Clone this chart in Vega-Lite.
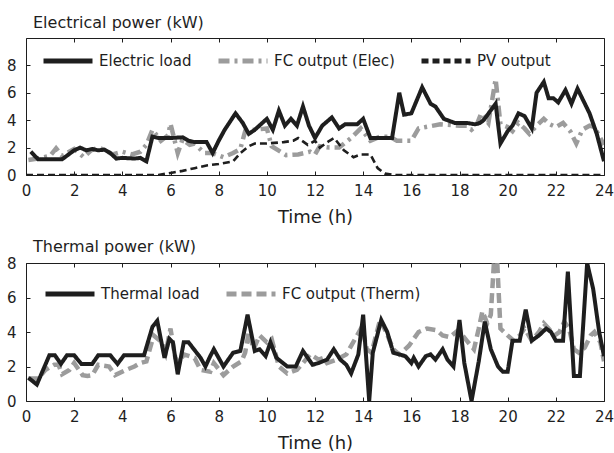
{
  "$schema": "https://vega.github.io/schema/vega-lite/v6.json",
  "padding": {"left": 5, "top": 14, "right": 1, "bottom": 2},
  "spacing": 11,
  "resolve": {"scale": {"color": "independent", "strokeDash": "independent"}, "legend": {"color": "independent", "strokeDash": "independent"}},
  "datasets": {
    "top": [
      {"s": "Electric load", "t": 0.2, "v": 1.7}, {"s": "Electric load", "t": 0.5, "v": 1.15}, {"s": "Electric load", "t": 1.0, "v": 1.15}, {"s": "Electric load", "t": 1.5, "v": 1.15},
      {"s": "Electric load", "t": 2.0, "v": 1.8}, {"s": "Electric load", "t": 2.25, "v": 2.0}, {"s": "Electric load", "t": 2.5, "v": 1.8}, {"s": "Electric load", "t": 2.75, "v": 1.9},
      {"s": "Electric load", "t": 3.0, "v": 1.8}, {"s": "Electric load", "t": 3.25, "v": 1.85}, {"s": "Electric load", "t": 3.5, "v": 1.6}, {"s": "Electric load", "t": 3.75, "v": 1.2},
      {"s": "Electric load", "t": 4.0, "v": 1.25}, {"s": "Electric load", "t": 4.5, "v": 1.2}, {"s": "Electric load", "t": 4.75, "v": 1.25}, {"s": "Electric load", "t": 5.0, "v": 1.0},
      {"s": "Electric load", "t": 5.25, "v": 2.8}, {"s": "Electric load", "t": 5.5, "v": 2.7}, {"s": "Electric load", "t": 6.0, "v": 2.7}, {"s": "Electric load", "t": 6.5, "v": 2.75},
      {"s": "Electric load", "t": 6.75, "v": 2.5}, {"s": "Electric load", "t": 7.0, "v": 2.4}, {"s": "Electric load", "t": 7.5, "v": 2.4}, {"s": "Electric load", "t": 7.75, "v": 1.6},
      {"s": "Electric load", "t": 8.0, "v": 2.5}, {"s": "Electric load", "t": 8.25, "v": 3.3}, {"s": "Electric load", "t": 8.7, "v": 4.5}, {"s": "Electric load", "t": 9.0, "v": 3.8},
      {"s": "Electric load", "t": 9.25, "v": 3.0}, {"s": "Electric load", "t": 9.5, "v": 3.3}, {"s": "Electric load", "t": 10.0, "v": 4.1}, {"s": "Electric load", "t": 10.25, "v": 3.3},
      {"s": "Electric load", "t": 10.5, "v": 4.7}, {"s": "Electric load", "t": 10.75, "v": 3.6}, {"s": "Electric load", "t": 11.0, "v": 4.1}, {"s": "Electric load", "t": 11.25, "v": 3.6},
      {"s": "Electric load", "t": 11.5, "v": 5.0}, {"s": "Electric load", "t": 11.75, "v": 3.6}, {"s": "Electric load", "t": 12.0, "v": 2.7}, {"s": "Electric load", "t": 12.3, "v": 3.6},
      {"s": "Electric load", "t": 12.7, "v": 4.2}, {"s": "Electric load", "t": 13.0, "v": 3.4}, {"s": "Electric load", "t": 13.25, "v": 3.7}, {"s": "Electric load", "t": 13.5, "v": 3.7},
      {"s": "Electric load", "t": 13.75, "v": 3.7}, {"s": "Electric load", "t": 14.0, "v": 4.1}, {"s": "Electric load", "t": 14.3, "v": 2.7}, {"s": "Electric load", "t": 15.2, "v": 2.7},
      {"s": "Electric load", "t": 15.5, "v": 6.0}, {"s": "Electric load", "t": 15.7, "v": 4.4}, {"s": "Electric load", "t": 16.0, "v": 4.5}, {"s": "Electric load", "t": 16.45, "v": 6.4},
      {"s": "Electric load", "t": 16.8, "v": 5.2}, {"s": "Electric load", "t": 17.0, "v": 5.0}, {"s": "Electric load", "t": 17.35, "v": 4.1}, {"s": "Electric load", "t": 17.8, "v": 3.8},
      {"s": "Electric load", "t": 18.0, "v": 3.8}, {"s": "Electric load", "t": 18.3, "v": 3.8}, {"s": "Electric load", "t": 18.65, "v": 3.7}, {"s": "Electric load", "t": 18.85, "v": 3.8},
      {"s": "Electric load", "t": 19.0, "v": 4.0}, {"s": "Electric load", "t": 19.25, "v": 4.6}, {"s": "Electric load", "t": 19.5, "v": 5.2}, {"s": "Electric load", "t": 19.7, "v": 2.3},
      {"s": "Electric load", "t": 20.0, "v": 3.2}, {"s": "Electric load", "t": 20.2, "v": 3.6}, {"s": "Electric load", "t": 20.45, "v": 4.5}, {"s": "Electric load", "t": 20.7, "v": 4.3},
      {"s": "Electric load", "t": 21.0, "v": 3.4}, {"s": "Electric load", "t": 21.2, "v": 6.0}, {"s": "Electric load", "t": 21.5, "v": 6.8}, {"s": "Electric load", "t": 21.7, "v": 5.6},
      {"s": "Electric load", "t": 21.9, "v": 5.6}, {"s": "Electric load", "t": 22.1, "v": 5.3}, {"s": "Electric load", "t": 22.4, "v": 6.2}, {"s": "Electric load", "t": 22.65, "v": 5.2},
      {"s": "Electric load", "t": 22.9, "v": 6.3}, {"s": "Electric load", "t": 23.4, "v": 4.5}, {"s": "Electric load", "t": 23.7, "v": 3.0}, {"s": "Electric load", "t": 24.0, "v": 1.0},

      {"s": "FC output (Elec)", "t": 0.1, "v": 1.1}, {"s": "FC output (Elec)", "t": 0.5, "v": 1.2}, {"s": "FC output (Elec)", "t": 1.0, "v": 1.4}, {"s": "FC output (Elec)", "t": 1.25, "v": 1.95},
      {"s": "FC output (Elec)", "t": 1.5, "v": 1.4}, {"s": "FC output (Elec)", "t": 2.0, "v": 1.9}, {"s": "FC output (Elec)", "t": 2.4, "v": 1.3}, {"s": "FC output (Elec)", "t": 2.7, "v": 1.8},
      {"s": "FC output (Elec)", "t": 3.0, "v": 2.0}, {"s": "FC output (Elec)", "t": 3.3, "v": 1.8}, {"s": "FC output (Elec)", "t": 3.6, "v": 1.5}, {"s": "FC output (Elec)", "t": 4.0, "v": 1.7},
      {"s": "FC output (Elec)", "t": 4.4, "v": 1.5}, {"s": "FC output (Elec)", "t": 4.75, "v": 1.7}, {"s": "FC output (Elec)", "t": 5.0, "v": 2.2}, {"s": "FC output (Elec)", "t": 5.25, "v": 3.3},
      {"s": "FC output (Elec)", "t": 5.6, "v": 2.5}, {"s": "FC output (Elec)", "t": 5.9, "v": 2.9}, {"s": "FC output (Elec)", "t": 6.0, "v": 3.75}, {"s": "FC output (Elec)", "t": 6.3, "v": 1.6},
      {"s": "FC output (Elec)", "t": 6.5, "v": 2.6}, {"s": "FC output (Elec)", "t": 6.8, "v": 2.2}, {"s": "FC output (Elec)", "t": 7.0, "v": 2.3}, {"s": "FC output (Elec)", "t": 7.4, "v": 1.6},
      {"s": "FC output (Elec)", "t": 7.75, "v": 1.6}, {"s": "FC output (Elec)", "t": 8.2, "v": 1.3}, {"s": "FC output (Elec)", "t": 8.6, "v": 1.6}, {"s": "FC output (Elec)", "t": 8.9, "v": 1.9},
      {"s": "FC output (Elec)", "t": 9.1, "v": 3.2}, {"s": "FC output (Elec)", "t": 9.5, "v": 3.3}, {"s": "FC output (Elec)", "t": 10.0, "v": 3.4}, {"s": "FC output (Elec)", "t": 10.2, "v": 2.1},
      {"s": "FC output (Elec)", "t": 10.8, "v": 1.45}, {"s": "FC output (Elec)", "t": 11.3, "v": 1.5}, {"s": "FC output (Elec)", "t": 11.8, "v": 1.7}, {"s": "FC output (Elec)", "t": 12.0, "v": 1.5},
      {"s": "FC output (Elec)", "t": 12.2, "v": 2.1}, {"s": "FC output (Elec)", "t": 12.6, "v": 2.0}, {"s": "FC output (Elec)", "t": 13.0, "v": 2.0}, {"s": "FC output (Elec)", "t": 13.5, "v": 2.7},
      {"s": "FC output (Elec)", "t": 13.9, "v": 3.4}, {"s": "FC output (Elec)", "t": 14.3, "v": 2.5}, {"s": "FC output (Elec)", "t": 14.7, "v": 2.8}, {"s": "FC output (Elec)", "t": 15.1, "v": 2.8},
      {"s": "FC output (Elec)", "t": 15.4, "v": 2.5}, {"s": "FC output (Elec)", "t": 16.0, "v": 2.5}, {"s": "FC output (Elec)", "t": 16.3, "v": 3.4}, {"s": "FC output (Elec)", "t": 16.6, "v": 3.5},
      {"s": "FC output (Elec)", "t": 17.2, "v": 3.7}, {"s": "FC output (Elec)", "t": 18.0, "v": 3.6}, {"s": "FC output (Elec)", "t": 18.3, "v": 3.6}, {"s": "FC output (Elec)", "t": 18.5, "v": 3.3},
      {"s": "FC output (Elec)", "t": 18.7, "v": 3.6}, {"s": "FC output (Elec)", "t": 18.9, "v": 4.5}, {"s": "FC output (Elec)", "t": 19.2, "v": 3.8}, {"s": "FC output (Elec)", "t": 19.5, "v": 7.0},
      {"s": "FC output (Elec)", "t": 19.7, "v": 3.7}, {"s": "FC output (Elec)", "t": 20.0, "v": 3.5}, {"s": "FC output (Elec)", "t": 20.2, "v": 3.2}, {"s": "FC output (Elec)", "t": 20.45, "v": 3.8},
      {"s": "FC output (Elec)", "t": 20.7, "v": 3.4}, {"s": "FC output (Elec)", "t": 20.9, "v": 3.0}, {"s": "FC output (Elec)", "t": 21.2, "v": 3.6}, {"s": "FC output (Elec)", "t": 21.5, "v": 4.1},
      {"s": "FC output (Elec)", "t": 21.75, "v": 3.7}, {"s": "FC output (Elec)", "t": 22.0, "v": 3.5}, {"s": "FC output (Elec)", "t": 22.3, "v": 3.8}, {"s": "FC output (Elec)", "t": 22.6, "v": 3.2},
      {"s": "FC output (Elec)", "t": 22.85, "v": 2.3}, {"s": "FC output (Elec)", "t": 23.1, "v": 3.3}, {"s": "FC output (Elec)", "t": 23.4, "v": 3.6}, {"s": "FC output (Elec)", "t": 23.6, "v": 3.5},
      {"s": "FC output (Elec)", "t": 24.0, "v": 2.2},

      {"s": "PV output", "t": 0, "v": 0}, {"s": "PV output", "t": 5.5, "v": 0}, {"s": "PV output", "t": 6.0, "v": 0.15}, {"s": "PV output", "t": 6.5, "v": 0.3},
      {"s": "PV output", "t": 7.0, "v": 0.5}, {"s": "PV output", "t": 7.5, "v": 0.7}, {"s": "PV output", "t": 8.0, "v": 0.8}, {"s": "PV output", "t": 8.6, "v": 1.0},
      {"s": "PV output", "t": 8.9, "v": 1.6}, {"s": "PV output", "t": 9.25, "v": 2.1}, {"s": "PV output", "t": 9.5, "v": 2.3}, {"s": "PV output", "t": 10.0, "v": 2.3},
      {"s": "PV output", "t": 10.7, "v": 2.4}, {"s": "PV output", "t": 11.1, "v": 2.5}, {"s": "PV output", "t": 11.3, "v": 2.7}, {"s": "PV output", "t": 11.7, "v": 2.2},
      {"s": "PV output", "t": 12.0, "v": 2.5}, {"s": "PV output", "t": 12.2, "v": 2.0}, {"s": "PV output", "t": 12.6, "v": 2.5}, {"s": "PV output", "t": 12.8, "v": 2.7},
      {"s": "PV output", "t": 13.2, "v": 1.8}, {"s": "PV output", "t": 13.6, "v": 1.3}, {"s": "PV output", "t": 13.9, "v": 1.5}, {"s": "PV output", "t": 14.3, "v": 1.5},
      {"s": "PV output", "t": 14.6, "v": 0.5}, {"s": "PV output", "t": 14.9, "v": 0.1}, {"s": "PV output", "t": 15.3, "v": 0}, {"s": "PV output", "t": 24.0, "v": 0}
    ],
    "bot": [
      {"s": "Thermal load", "t": 0.1, "v": 1.35}, {"s": "Thermal load", "t": 0.45, "v": 0.95}, {"s": "Thermal load", "t": 0.97, "v": 2.65}, {"s": "Thermal load", "t": 1.2, "v": 2.65},
      {"s": "Thermal load", "t": 1.45, "v": 2.15}, {"s": "Thermal load", "t": 1.7, "v": 2.65}, {"s": "Thermal load", "t": 2.0, "v": 2.65}, {"s": "Thermal load", "t": 2.3, "v": 2.15},
      {"s": "Thermal load", "t": 2.75, "v": 2.15}, {"s": "Thermal load", "t": 3.0, "v": 2.65}, {"s": "Thermal load", "t": 3.5, "v": 2.65}, {"s": "Thermal load", "t": 3.8, "v": 2.15},
      {"s": "Thermal load", "t": 4.07, "v": 2.65}, {"s": "Thermal load", "t": 4.9, "v": 2.65}, {"s": "Thermal load", "t": 5.25, "v": 4.3}, {"s": "Thermal load", "t": 5.45, "v": 4.65},
      {"s": "Thermal load", "t": 5.75, "v": 2.5}, {"s": "Thermal load", "t": 5.95, "v": 3.6}, {"s": "Thermal load", "t": 6.1, "v": 3.4}, {"s": "Thermal load", "t": 6.3, "v": 1.55},
      {"s": "Thermal load", "t": 6.55, "v": 3.4}, {"s": "Thermal load", "t": 6.75, "v": 3.4}, {"s": "Thermal load", "t": 7.25, "v": 2.5}, {"s": "Thermal load", "t": 7.45, "v": 2.0},
      {"s": "Thermal load", "t": 7.65, "v": 2.6}, {"s": "Thermal load", "t": 7.8, "v": 3.0}, {"s": "Thermal load", "t": 8.2, "v": 2.0}, {"s": "Thermal load", "t": 8.6, "v": 2.8},
      {"s": "Thermal load", "t": 8.9, "v": 2.9}, {"s": "Thermal load", "t": 9.2, "v": 5.0}, {"s": "Thermal load", "t": 9.5, "v": 2.9}, {"s": "Thermal load", "t": 9.7, "v": 3.0},
      {"s": "Thermal load", "t": 9.95, "v": 2.6}, {"s": "Thermal load", "t": 10.15, "v": 3.4}, {"s": "Thermal load", "t": 10.4, "v": 2.5}, {"s": "Thermal load", "t": 10.85, "v": 2.0},
      {"s": "Thermal load", "t": 11.2, "v": 2.0}, {"s": "Thermal load", "t": 11.5, "v": 2.9}, {"s": "Thermal load", "t": 11.9, "v": 2.1}, {"s": "Thermal load", "t": 12.15, "v": 2.2},
      {"s": "Thermal load", "t": 12.5, "v": 2.4}, {"s": "Thermal load", "t": 12.78, "v": 3.0}, {"s": "Thermal load", "t": 13.05, "v": 2.4}, {"s": "Thermal load", "t": 13.3, "v": 2.1},
      {"s": "Thermal load", "t": 13.5, "v": 1.6}, {"s": "Thermal load", "t": 13.8, "v": 2.7}, {"s": "Thermal load", "t": 14.0, "v": 5.0}, {"s": "Thermal load", "t": 14.25, "v": 0},
      {"s": "Thermal load", "t": 14.4, "v": 2.8}, {"s": "Thermal load", "t": 14.75, "v": 4.7}, {"s": "Thermal load", "t": 15.0, "v": 4.0}, {"s": "Thermal load", "t": 15.25, "v": 2.8},
      {"s": "Thermal load", "t": 15.5, "v": 2.7}, {"s": "Thermal load", "t": 15.75, "v": 2.6}, {"s": "Thermal load", "t": 16.0, "v": 2.2}, {"s": "Thermal load", "t": 16.1, "v": 2.5},
      {"s": "Thermal load", "t": 16.3, "v": 2.0}, {"s": "Thermal load", "t": 16.6, "v": 2.6}, {"s": "Thermal load", "t": 16.8, "v": 2.7}, {"s": "Thermal load", "t": 17.0, "v": 2.4},
      {"s": "Thermal load", "t": 17.3, "v": 3.0}, {"s": "Thermal load", "t": 17.5, "v": 2.4}, {"s": "Thermal load", "t": 17.75, "v": 2.0}, {"s": "Thermal load", "t": 18.0, "v": 4.7},
      {"s": "Thermal load", "t": 18.2, "v": 2.2}, {"s": "Thermal load", "t": 18.5, "v": 0}, {"s": "Thermal load", "t": 18.8, "v": 2.3}, {"s": "Thermal load", "t": 19.05, "v": 4.6},
      {"s": "Thermal load", "t": 19.3, "v": 3.0}, {"s": "Thermal load", "t": 19.6, "v": 2.0}, {"s": "Thermal load", "t": 19.8, "v": 1.7}, {"s": "Thermal load", "t": 20.0, "v": 1.7},
      {"s": "Thermal load", "t": 20.2, "v": 3.5}, {"s": "Thermal load", "t": 20.5, "v": 3.5}, {"s": "Thermal load", "t": 20.75, "v": 5.3}, {"s": "Thermal load", "t": 21.0, "v": 3.5},
      {"s": "Thermal load", "t": 21.3, "v": 3.8}, {"s": "Thermal load", "t": 21.6, "v": 4.2}, {"s": "Thermal load", "t": 21.8, "v": 4.0}, {"s": "Thermal load", "t": 22.0, "v": 3.5},
      {"s": "Thermal load", "t": 22.3, "v": 3.5}, {"s": "Thermal load", "t": 22.5, "v": 7.5}, {"s": "Thermal load", "t": 22.75, "v": 1.45}, {"s": "Thermal load", "t": 23.0, "v": 1.45},
      {"s": "Thermal load", "t": 23.3, "v": 8.0}, {"s": "Thermal load", "t": 23.55, "v": 6.5}, {"s": "Thermal load", "t": 23.8, "v": 4.0}, {"s": "Thermal load", "t": 24.0, "v": 2.6},

      {"s": "FC output (Therm)", "t": 0.1, "v": 1.3}, {"s": "FC output (Therm)", "t": 0.5, "v": 1.3}, {"s": "FC output (Therm)", "t": 0.8, "v": 1.8}, {"s": "FC output (Therm)", "t": 1.17, "v": 2.1},
      {"s": "FC output (Therm)", "t": 1.35, "v": 2.1}, {"s": "FC output (Therm)", "t": 1.5, "v": 1.55}, {"s": "FC output (Therm)", "t": 1.8, "v": 1.8}, {"s": "FC output (Therm)", "t": 2.0, "v": 2.2},
      {"s": "FC output (Therm)", "t": 2.35, "v": 1.5}, {"s": "FC output (Therm)", "t": 2.55, "v": 1.45}, {"s": "FC output (Therm)", "t": 2.75, "v": 1.5}, {"s": "FC output (Therm)", "t": 3.0, "v": 2.1},
      {"s": "FC output (Therm)", "t": 3.45, "v": 2.0}, {"s": "FC output (Therm)", "t": 3.7, "v": 1.5}, {"s": "FC output (Therm)", "t": 4.15, "v": 1.8}, {"s": "FC output (Therm)", "t": 4.5, "v": 2.0},
      {"s": "FC output (Therm)", "t": 4.75, "v": 2.2}, {"s": "FC output (Therm)", "t": 5.0, "v": 2.3}, {"s": "FC output (Therm)", "t": 5.3, "v": 3.8}, {"s": "FC output (Therm)", "t": 5.65, "v": 3.4},
      {"s": "FC output (Therm)", "t": 5.8, "v": 2.8}, {"s": "FC output (Therm)", "t": 6.0, "v": 4.2}, {"s": "FC output (Therm)", "t": 6.2, "v": 2.5}, {"s": "FC output (Therm)", "t": 6.35, "v": 2.2},
      {"s": "FC output (Therm)", "t": 6.55, "v": 2.7}, {"s": "FC output (Therm)", "t": 7.0, "v": 2.5}, {"s": "FC output (Therm)", "t": 7.25, "v": 1.8}, {"s": "FC output (Therm)", "t": 7.65, "v": 1.7},
      {"s": "FC output (Therm)", "t": 7.8, "v": 2.2}, {"s": "FC output (Therm)", "t": 8.2, "v": 1.5}, {"s": "FC output (Therm)", "t": 8.6, "v": 2.0}, {"s": "FC output (Therm)", "t": 8.95, "v": 2.3},
      {"s": "FC output (Therm)", "t": 9.1, "v": 2.8}, {"s": "FC output (Therm)", "t": 9.25, "v": 4.0}, {"s": "FC output (Therm)", "t": 9.45, "v": 3.0}, {"s": "FC output (Therm)", "t": 9.7, "v": 3.8},
      {"s": "FC output (Therm)", "t": 10.0, "v": 3.4}, {"s": "FC output (Therm)", "t": 10.2, "v": 3.6}, {"s": "FC output (Therm)", "t": 10.5, "v": 2.0}, {"s": "FC output (Therm)", "t": 10.85, "v": 1.6},
      {"s": "FC output (Therm)", "t": 11.25, "v": 1.8}, {"s": "FC output (Therm)", "t": 11.5, "v": 2.2}, {"s": "FC output (Therm)", "t": 11.8, "v": 2.7}, {"s": "FC output (Therm)", "t": 12.15, "v": 2.4},
      {"s": "FC output (Therm)", "t": 12.35, "v": 2.5}, {"s": "FC output (Therm)", "t": 12.5, "v": 2.2}, {"s": "FC output (Therm)", "t": 12.9, "v": 2.4}, {"s": "FC output (Therm)", "t": 13.3, "v": 2.7},
      {"s": "FC output (Therm)", "t": 13.95, "v": 4.3}, {"s": "FC output (Therm)", "t": 14.15, "v": 3.0}, {"s": "FC output (Therm)", "t": 14.35, "v": 2.8}, {"s": "FC output (Therm)", "t": 14.7, "v": 4.7},
      {"s": "FC output (Therm)", "t": 14.95, "v": 4.0}, {"s": "FC output (Therm)", "t": 15.25, "v": 3.0}, {"s": "FC output (Therm)", "t": 15.5, "v": 2.7}, {"s": "FC output (Therm)", "t": 15.9, "v": 3.2},
      {"s": "FC output (Therm)", "t": 16.3, "v": 4.0}, {"s": "FC output (Therm)", "t": 16.65, "v": 4.2}, {"s": "FC output (Therm)", "t": 17.05, "v": 4.1}, {"s": "FC output (Therm)", "t": 17.3, "v": 3.8},
      {"s": "FC output (Therm)", "t": 17.6, "v": 3.7}, {"s": "FC output (Therm)", "t": 17.95, "v": 4.1}, {"s": "FC output (Therm)", "t": 18.3, "v": 3.5}, {"s": "FC output (Therm)", "t": 18.6, "v": 3.0},
      {"s": "FC output (Therm)", "t": 18.8, "v": 4.2}, {"s": "FC output (Therm)", "t": 18.95, "v": 5.2}, {"s": "FC output (Therm)", "t": 19.15, "v": 4.5}, {"s": "FC output (Therm)", "t": 19.3, "v": 5.0},
      {"s": "FC output (Therm)", "t": 19.45, "v": 8.5}, {"s": "FC output (Therm)", "t": 19.55, "v": 8.5}, {"s": "FC output (Therm)", "t": 19.7, "v": 4.2}, {"s": "FC output (Therm)", "t": 20.0, "v": 3.8},
      {"s": "FC output (Therm)", "t": 20.25, "v": 3.5}, {"s": "FC output (Therm)", "t": 20.5, "v": 3.8}, {"s": "FC output (Therm)", "t": 20.7, "v": 4.2}, {"s": "FC output (Therm)", "t": 21.0, "v": 3.5},
      {"s": "FC output (Therm)", "t": 21.3, "v": 4.0}, {"s": "FC output (Therm)", "t": 21.5, "v": 4.5}, {"s": "FC output (Therm)", "t": 21.7, "v": 4.2}, {"s": "FC output (Therm)", "t": 21.95, "v": 3.8},
      {"s": "FC output (Therm)", "t": 22.15, "v": 4.0}, {"s": "FC output (Therm)", "t": 22.35, "v": 4.6}, {"s": "FC output (Therm)", "t": 22.55, "v": 4.2}, {"s": "FC output (Therm)", "t": 22.75, "v": 3.0},
      {"s": "FC output (Therm)", "t": 22.95, "v": 2.8}, {"s": "FC output (Therm)", "t": 23.2, "v": 3.1}, {"s": "FC output (Therm)", "t": 23.45, "v": 3.8}, {"s": "FC output (Therm)", "t": 23.6, "v": 4.0},
      {"s": "FC output (Therm)", "t": 23.85, "v": 3.4}, {"s": "FC output (Therm)", "t": 24.0, "v": 2.3}
    ]
  },
  "vconcat": [
    {
      "width": 578,
      "height": 137,
      "title": {"text": "Electrical power (kW)", "dx": 7, "offset": 3},
      "data": {"name": "top"},
      "encoding": {
        "color": {"field": "s", "type": "nominal",
          "scale": {"domain": ["Electric load", "FC output (Elec)", "PV output"], "range": ["#1e1e1e", "#9c9c9c", "#1e1e1e"]},
          "legend": {"orient": "none", "legendX": 15, "legendY": -4, "direction": "horizontal", "title": null, "columnPadding": 16}},
        "strokeDash": {"field": "s", "type": "nominal",
          "scale": {"domain": ["Electric load", "FC output (Elec)", "PV output"], "range": [[1, 0], [11, 5, 3, 5], [7, 4]]},
          "legend": {"orient": "none", "legendX": 15, "legendY": -4, "direction": "horizontal", "title": null, "columnPadding": 16}}
      },
      "layer": [
        {
          "transform": [{"filter": "datum.s === 'FC output (Elec)'"}],
          "mark": {"type": "line", "strokeWidth": 4.5, "clip": true},
          "encoding": {
            "x": {"field": "t", "type": "quantitative", "scale": {"domain": [0, 24], "nice": false},
              "axis": {"orient": "top", "labels": false, "title": null, "values": [0, 2, 4, 6, 8, 10, 12, 14, 16, 18, 20, 22, 24]}},
            "y": {"field": "v", "type": "quantitative", "scale": {"domain": [0, 10], "nice": false},
              "axis": {"orient": "right", "labels": false, "title": null, "values": [0, 2, 4, 6, 8]}}
          }
        },
        {
          "transform": [{"filter": "datum.s === 'Electric load'"}],
          "mark": {"type": "line", "strokeWidth": 4, "clip": true},
          "encoding": {
            "x": {"field": "t", "type": "quantitative", "scale": {"domain": [0, 24], "nice": false},
              "axis": {"orient": "bottom", "title": "Time (h)", "values": [0, 2, 4, 6, 8, 10, 12, 14, 16, 18, 20, 22, 24]}},
            "y": {"field": "v", "type": "quantitative", "scale": {"domain": [0, 10], "nice": false},
              "axis": {"orient": "left", "title": null, "values": [0, 2, 4, 6, 8]}}
          }
        },
        {
          "transform": [{"filter": "datum.s === 'PV output'"}],
          "mark": {"type": "line", "strokeWidth": 2.6, "clip": true},
          "encoding": {
            "x": {"field": "t", "type": "quantitative", "scale": {"domain": [0, 24], "nice": false}, "axis": null},
            "y": {"field": "v", "type": "quantitative", "scale": {"domain": [0, 10], "nice": false}, "axis": null}
          }
        }
      ],
      "resolve": {"axis": {"x": "independent", "y": "independent"}}
    },
    {
      "width": 578,
      "height": 138,
      "title": {"text": "Thermal power (kW)", "dx": 7, "offset": 1},
      "data": {"name": "bot"},
      "encoding": {
        "color": {"field": "s", "type": "nominal",
          "scale": {"domain": ["Thermal load", "FC output (Therm)"], "range": ["#1e1e1e", "#9c9c9c"]},
          "legend": {"orient": "none", "legendX": 17, "legendY": 4, "direction": "horizontal", "title": null, "columnPadding": 16}},
        "strokeDash": {"field": "s", "type": "nominal",
          "scale": {"domain": ["Thermal load", "FC output (Therm)"], "range": [[1, 0], [10, 5]]},
          "legend": {"orient": "none", "legendX": 17, "legendY": 4, "direction": "horizontal", "title": null, "columnPadding": 16}}
      },
      "layer": [
        {
          "transform": [{"filter": "datum.s === 'FC output (Therm)'"}],
          "mark": {"type": "line", "strokeWidth": 4.5, "clip": true},
          "encoding": {
            "x": {"field": "t", "type": "quantitative", "scale": {"domain": [0, 24], "nice": false},
              "axis": {"orient": "top", "labels": false, "title": null, "values": [0, 2, 4, 6, 8, 10, 12, 14, 16, 18, 20, 22, 24]}},
            "y": {"field": "v", "type": "quantitative", "scale": {"domain": [0, 8], "nice": false},
              "axis": {"orient": "right", "labels": false, "title": null, "values": [0, 2, 4, 6, 8]}}
          }
        },
        {
          "transform": [{"filter": "datum.s === 'Thermal load'"}],
          "mark": {"type": "line", "strokeWidth": 4, "clip": true},
          "encoding": {
            "x": {"field": "t", "type": "quantitative", "scale": {"domain": [0, 24], "nice": false},
              "axis": {"orient": "bottom", "title": "Time (h)", "values": [0, 2, 4, 6, 8, 10, 12, 14, 16, 18, 20, 22, 24]}},
            "y": {"field": "v", "type": "quantitative", "scale": {"domain": [0, 8], "nice": false},
              "axis": {"orient": "left", "title": null, "values": [0, 2, 4, 6, 8]}}
          }
        }
      ],
      "resolve": {"axis": {"x": "independent", "y": "independent"}}
    }
  ],
  "config": {
    "font": "DejaVu Sans",
    "view": {"stroke": "#1e1e1e", "strokeWidth": 1},
    "axis": {"grid": false, "domain": false, "labelFontSize": 15, "titleFontSize": 18, "titleFontWeight": "normal",
      "labelColor": "#1e1e1e", "titleColor": "#1e1e1e", "tickColor": "#1e1e1e", "labelFlush": false, "labelOverlap": false, "tickSize": -4},
    "axisX": {"labelPadding": 12, "titlePadding": 10},
    "axisY": {"labelPadding": 14},
    "title": {"fontSize": 16, "fontWeight": "normal", "anchor": "start", "frame": "group", "color": "#1e1e1e"},
    "legend": {"symbolType": "stroke", "symbolSize": 2401, "symbolStrokeWidth": 5, "labelFontSize": 15, "labelColor": "#1e1e1e",
      "labelOffset": 4, "padding": 0, "labelLimit": 300}
  }
}
